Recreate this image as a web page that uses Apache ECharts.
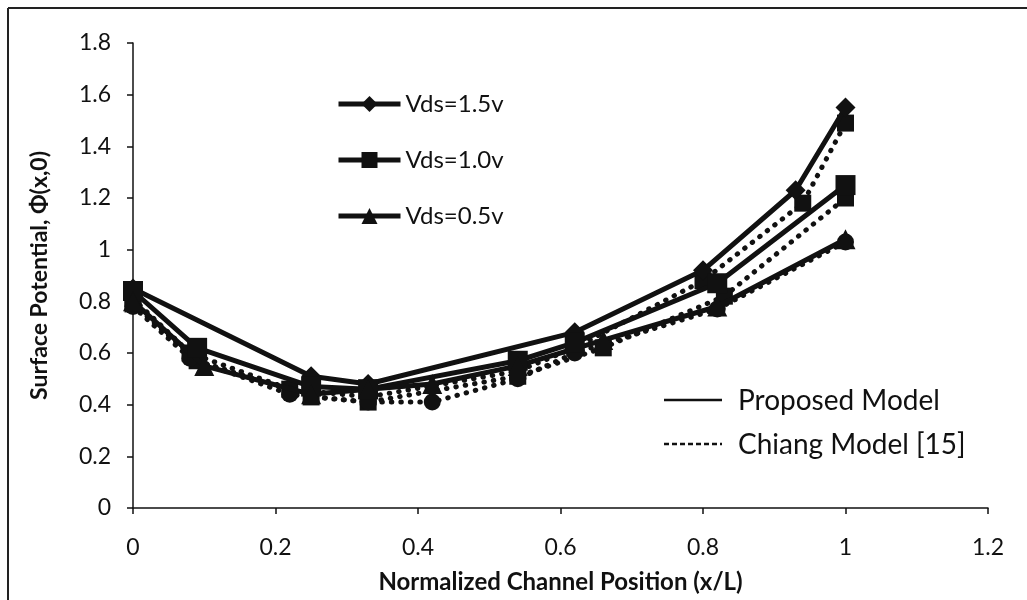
<!DOCTYPE html>
<html>
<head>
<meta charset="utf-8">
<script src="https://cdn.jsdelivr.net/npm/echarts@6/dist/echarts.min.js"></script>
<style>
  html, body { margin: 0; padding: 0; background: #fff; }
  #chart { width: 1027px; height: 600px; }
</style>
</head>
<body>
<div id="chart"></div>
<script>
// Surface potential along the channel: proposed model (solid) vs Chiang model (dotted)
const xTicks = [0, 0.2, 0.4, 0.6, 0.8, 1, 1.2];
const yTicks = [0, 0.2, 0.4, 0.6, 0.8, 1, 1.2, 1.4, 1.6, 1.8];

// Proposed model
const prop15X = [0, 0.25, 0.33, 0.62, 0.80, 0.93, 1.0];
const prop15Y = [0.85, 0.51, 0.48, 0.68, 0.92, 1.23, 1.55];
const prop10X = [0, 0.09, 0.25, 0.33, 0.54, 0.62, 0.82, 1.0];
const prop10Y = [0.84, 0.62, 0.47, 0.46, 0.57, 0.64, 0.87, 1.25];
const prop05X = [0, 0.10, 0.25, 0.33, 0.42, 0.54, 0.66, 0.82, 1.0];
const prop05Y = [0.80, 0.55, 0.44, 0.46, 0.48, 0.55, 0.65, 0.78, 1.04];

// Chiang model [15]
const chi15X = [0, 0.08, 0.22, 0.33, 0.54, 0.62, 0.80, 0.94, 1.0];
const chi15Y = [0.81, 0.60, 0.46, 0.43, 0.53, 0.62, 0.88, 1.18, 1.49];
const chi10X = [0, 0.09, 0.25, 0.33, 0.54, 0.66, 0.83, 1.0];
const chi10Y = [0.79, 0.57, 0.43, 0.41, 0.51, 0.62, 0.82, 1.20];
const chi05X = [0, 0.08, 0.22, 0.33, 0.42, 0.54, 0.62, 0.82, 1.0];
const chi05Y = [0.78, 0.58, 0.44, 0.41, 0.41, 0.50, 0.60, 0.77, 1.03];

const seriesNames = ['Vds=1.5v', 'Vds=1.0v', 'Vds=0.5v'];

const pairs = (xs, ys) => xs.map((x, i) => [x, ys[i]]);
const INK = '#111';
const FONT = 'Lato, "Open Sans", sans-serif';

function dotted(name, xs, ys, symbol) {
  return {
    name: name,
    type: 'line',
    data: pairs(xs, ys),
    symbol: symbol,
    symbolSize: 17,
    itemStyle: { color: INK },
    lineStyle: { color: INK, width: 5, type: [0.5, 9], cap: 'round' },
    z: 2,
    silent: true
  };
}

function solid(name, xs, ys, symbol, size) {
  return {
    name: name,
    type: 'line',
    data: pairs(xs, ys),
    symbol: symbol,
    symbolSize: size,
    itemStyle: { color: INK },
    lineStyle: { color: INK, width: 5 },
    z: 3
  };
}

const chart = echarts.init(document.getElementById('chart'), null, { renderer: 'canvas' });

chart.setOption({
  animation: false,
  backgroundColor: '#fff',
  textStyle: { fontFamily: FONT, color: INK },
  grid: { left: 133, right: 39, top: 43, bottom: 92 },
  legend: {
    data: seriesNames,
    orient: 'vertical',
    left: 336,
    top: 92,
    padding: 0,
    itemWidth: 62,
    itemHeight: 20,
    itemGap: 32,
    lineStyle: { width: 5 },
    textStyle: { fontSize: 24, color: INK, fontFamily: FONT }
  },
  xAxis: {
    type: 'value',
    min: xTicks[0],
    max: xTicks[xTicks.length - 1],
    interval: 0.2,
    name: 'Normalized Channel Position (x/L)',
    nameLocation: 'middle',
    nameGap: 62,
    nameTextStyle: { fontSize: 24, fontWeight: 'bold', color: INK, fontFamily: FONT },
    axisLine: { show: true, lineStyle: { color: INK, width: 1.5 } },
    axisTick: { show: true, length: 6, lineStyle: { color: INK, width: 1.5 } },
    axisLabel: { fontSize: 23, color: INK, margin: 28, fontFamily: FONT },
    splitLine: { show: false }
  },
  yAxis: {
    type: 'value',
    min: yTicks[0],
    max: yTicks[yTicks.length - 1],
    interval: 0.2,
    name: 'Surface Potential, Φ(x,0)',
    nameLocation: 'middle',
    nameRotate: 90,
    nameGap: 82,
    nameTextStyle: { fontSize: 23, fontWeight: 'bold', color: INK, fontFamily: FONT },
    axisLine: { show: true, lineStyle: { color: INK, width: 1.5 } },
    axisTick: { show: true, length: 6, lineStyle: { color: INK, width: 1.5 } },
    axisLabel: { fontSize: 23, color: INK, margin: 22, fontFamily: FONT },
    splitLine: { show: false }
  },
  graphic: [
    { type: 'line', shape: { x1: 8, y1: 8, x2: 1027, y2: 8 }, style: { stroke: '#222', lineWidth: 2 } },
    { type: 'line', shape: { x1: 8, y1: 8, x2: 8, y2: 600 }, style: { stroke: '#222', lineWidth: 2 } },
    { type: 'line', shape: { x1: 664, y1: 400, x2: 722, y2: 400 }, style: { stroke: INK, lineWidth: 2.5 } },
    { type: 'text', x: 738, y: 401, style: { text: 'Proposed Model', fontSize: 28, fill: INK, fontFamily: FONT, verticalAlign: 'middle' } },
    { type: 'line', shape: { x1: 664, y1: 444, x2: 722, y2: 444 }, style: { stroke: INK, lineWidth: 2.5, lineDash: [5, 3] } },
    { type: 'text', x: 738, y: 445, style: { text: 'Chiang Model [15]', fontSize: 28, fill: INK, fontFamily: FONT, verticalAlign: 'middle' } }
  ],
  series: [
    dotted('Chiang 1.5v', chi15X, chi15Y, 'rect'),
    dotted('Chiang 1.0v', chi10X, chi10Y, 'rect'),
    dotted('Chiang 0.5v', chi05X, chi05Y, 'circle'),
    solid(seriesNames[0], prop15X, prop15Y, 'diamond', 20),
    solid(seriesNames[1], prop10X, prop10Y, 'rect', 20),
    solid(seriesNames[2], prop05X, prop05Y, 'triangle', 20)
  ]
});
</script>
</body>
</html>
